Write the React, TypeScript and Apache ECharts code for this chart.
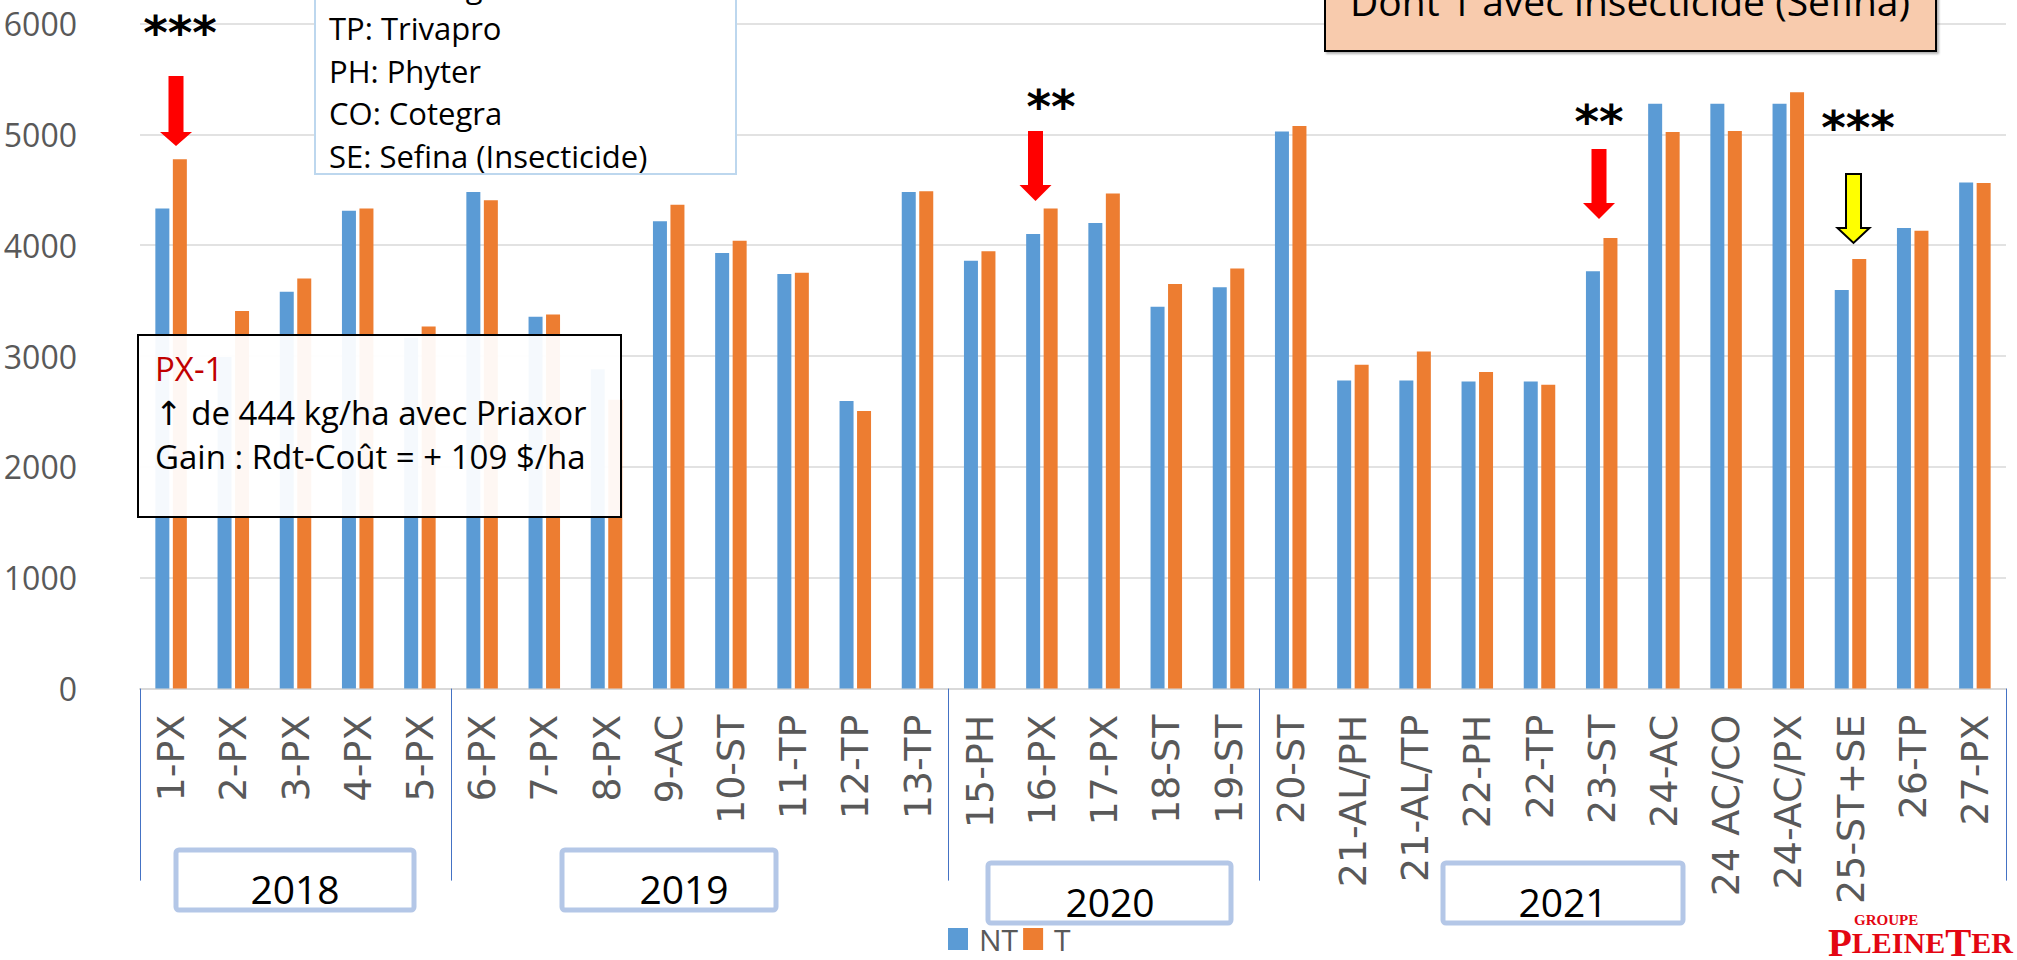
import React, { useEffect, useRef } from "react";
import * as echarts from "echarts";

const categories = [
  "1-PX", "2-PX", "3-PX", "4-PX", "5-PX", "6-PX", "7-PX", "8-PX", "9-AC", "10-ST",
  "11-TP", "12-TP", "13-TP", "15-PH", "16-PX", "17-PX", "18-ST", "19-ST", "20-ST",
  "21-AL/PH", "21-AL/TP", "22-PH", "22-TP", "23-ST", "24-AC", "24 AC/CO", "24-AC/PX",
  "25-ST+SE", "26-TP", "27-PX",
];
const ntValues = [
  4330, 2990, 3580, 4310, 3165, 4480, 3355, 2880, 4215, 3930,
  3740, 2595, 4480, 3860, 4100, 4200, 3445, 3620, 5025,
  2780, 2780, 2770, 2770, 3765, 5275, 5275, 5275,
  3595, 4155, 4565,
];
const tValues = [
  4775, 3405, 3700, 4330, 3265, 4405, 3375, 2605, 4365, 4040,
  3750, 2505, 4485, 3945, 4330, 4465, 3650, 3790, 5075,
  2920, 3040, 2855, 2740, 4065, 5020, 5030, 5380,
  3875, 4130, 4560,
];
const seriesNames = ["NT", "T"];
const yMin = 0;
const yMax = 6000;
const yStep = 1000;
const groupStartIndex = [0, 5, 13, 18];
const yearLabels = ["2018", "2019", "2020", "2021"];
const abbreviations = ["ST: Stratego", "TP: Trivapro", "PH: Phyter", "CO: Cotegra", "SE: Sefina (Insecticide)"];
const noteTitle = "PX-1";
const noteLines = ["\u2191 de 444 kg/ha avec Priaxor", "Gain : Rdt-Co\u00fbt = + 109 $/ha"];
const topBoxText = "Dont 1 avec insecticide (Sefina)";

const FONT = "'Open Sans', 'DejaVu Sans', sans-serif";

function arrow(cx: number, top: number, headY: number, tip: number, fill: string, stroke?: string) {
  const sw = 15;
  const hw = 32;
  return {
    type: "polygon",
    z: 100,
    shape: {
      points: [
        [cx - sw / 2, top], [cx + sw / 2, top], [cx + sw / 2, headY], [cx + hw / 2, headY],
        [cx, tip], [cx - hw / 2, headY], [cx - sw / 2, headY],
      ],
    },
    style: { fill, stroke: stroke || "none", lineWidth: stroke ? 2 : 0 },
  };
}

function stars(text: string, x: number, y: number) {
  return {
    type: "text", z: 100, x, y,
    style: { text, fill: "#000", font: "bold 47px 'DejaVu Sans'", align: "center", verticalAlign: "middle" },
  };
}

const yearBoxes = [
  { x: 176, y: 850, w: 238, tx: 295 },
  { x: 562, y: 850, w: 214, tx: 684 },
  { x: 988, y: 863, w: 243, tx: 1110 },
  { x: 1443, y: 863, w: 240, tx: 1563 },
];

export default function App() {
  const ref = useRef<HTMLDivElement>(null);
  useEffect(() => {
    if (!ref.current) return;
    const chart = echarts.init(ref.current, undefined, { renderer: "svg" });

    const graphic: any[] = [];
    // abbreviation box (top left)
    graphic.push({ type: "rect", z: 100, shape: { x: 315, y: -40, width: 421, height: 214 }, style: { fill: "#fff", stroke: "#BDD7EE", lineWidth: 2 } });
    abbreviations.forEach((t, i) => {
      graphic.push({ type: "text", z: 101, x: 329, y: -14.5 + i * 42.5, style: { text: t, fill: "#000", font: `31px ${FONT}`, align: "left", verticalAlign: "middle" } });
    });
    // top-right box
    graphic.push({ type: "rect", z: 100, shape: { x: 1325, y: -20, width: 611, height: 71 }, style: { fill: "#F8CBAD", stroke: "#000", lineWidth: 2, shadowColor: "rgba(0,0,0,0.3)", shadowOffsetX: 2, shadowOffsetY: 2, shadowBlur: 2 } });
    graphic.push({ type: "text", z: 101, x: 1630, y: 0, style: { text: topBoxText, fill: "#000", font: `39px ${FONT}`, align: "center", verticalAlign: "middle" } });
    // PX-1 note
    graphic.push({ type: "rect", z: 100, shape: { x: 138, y: 335, width: 483, height: 182 }, style: { fill: "rgba(255,255,255,0.94)", stroke: "#000", lineWidth: 2 } });
    graphic.push({ type: "text", z: 101, x: 155, y: 368, style: { text: noteTitle, fill: "#C00000", font: `33px ${FONT}`, align: "left", verticalAlign: "middle" } });
    noteLines.forEach((t, i) => {
      graphic.push({ type: "text", z: 101, x: 155, y: 412 + i * 44, style: { text: t, fill: "#000", font: `33px ${FONT}`, align: "left", verticalAlign: "middle" } });
    });
    // arrows & stars
    graphic.push(stars("***", 180, 32));
    graphic.push(arrow(176, 76, 132, 146, "#FF0000"));
    graphic.push(stars("**", 1051, 106));
    graphic.push(arrow(1035.5, 131, 185, 201, "#FF0000"));
    graphic.push(stars("**", 1599, 121));
    graphic.push(arrow(1599, 149, 203, 219, "#FF0000"));
    graphic.push(stars("***", 1858, 127));
    graphic.push(arrow(1853.5, 174, 228, 243, "#FFFF00", "#000"));
    // year boxes
    yearLabels.forEach((t, i) => {
      const b = yearBoxes[i];
      graphic.push({ type: "rect", z: 100, shape: { x: b.x, y: b.y, width: b.w, height: 60, r: 3 }, style: { fill: "#fff", stroke: "#B4C7E7", lineWidth: 5 } });
      graphic.push({ type: "text", z: 101, x: b.tx, y: b.y + 38, style: { text: t, fill: "#000", font: `39px ${FONT}`, align: "center", verticalAlign: "middle" } });
    });
    // logo (single text element: small "GROUPE" line above "PLEINETER")
    graphic.push({
      type: "text", z: 101, x: 1828, y: 958,
      style: {
        text: "{g|GROUPE}\n{b|P}{s|LEINE}{b|T}{s|ER}",
        align: "left", verticalAlign: "bottom",
        rich: {
          g: { fontSize: 15, lineHeight: 13, fontWeight: "bold", fontFamily: "Liberation Serif", fill: "#E30613", padding: [0, 0, 0, 26] },
          b: { fontSize: 39, lineHeight: 32, fontWeight: "bold", fontFamily: "Liberation Serif", fill: "#E30613" },
          s: { fontSize: 30, lineHeight: 32, fontWeight: "bold", fontFamily: "Liberation Serif", fill: "#E30613" },
        },
      },
    });

    chart.setOption({
      animation: false,
      backgroundColor: "#fff",
      grid: { left: 140, right: 11, top: 23.4, bottom: 271.4, containLabel: false },
      legend: {
        data: seriesNames,
        left: 948, top: 924, padding: 0,
        icon: "rect", itemWidth: 20, itemHeight: 22, itemGap: 5,
        textStyle: { fontSize: 30, lineHeight: 30, color: "#595959", fontFamily: FONT, padding: [0, 0, 0, 6] },
      },
      xAxis: {
        type: "category",
        data: categories,
        axisLine: { show: true, lineStyle: { color: "#D9D9D9", width: 2 } },
        axisTick: {
          show: true, alignWithLabel: false, length: 192,
          interval: (i: number) => groupStartIndex.includes(i),
          lineStyle: { color: "#4472C4", width: 1 },
        },
        axisLabel: { interval: 0, rotate: 90, fontSize: 38, fontFamily: "'DejaVu Sans'", color: "#595959", margin: 26 },
      },
      yAxis: {
        type: "value",
        min: yMin, max: yMax, interval: yStep,
        axisLine: { show: false }, axisTick: { show: false },
        axisLabel: { fontSize: 32, fontFamily: FONT, color: "#595959", margin: 63, formatter: (v: number) => String(v) },
        splitLine: { lineStyle: { color: "#D9D9D9", width: 1.5 } },
      },
      series: [
        { name: seriesNames[0], type: "bar", data: ntValues, barWidth: 14, barGap: "25%", itemStyle: { color: "#5B9BD5" } },
        { name: seriesNames[1], type: "bar", data: tValues, barWidth: 14, barGap: "25%", itemStyle: { color: "#ED7D31" } },
      ],
      graphic,
    });
    return () => chart.dispose();
  }, []);
  return <div ref={ref} style={{ position: "fixed", left: 0, top: 0, width: 2017, height: 960 }} />;
}
